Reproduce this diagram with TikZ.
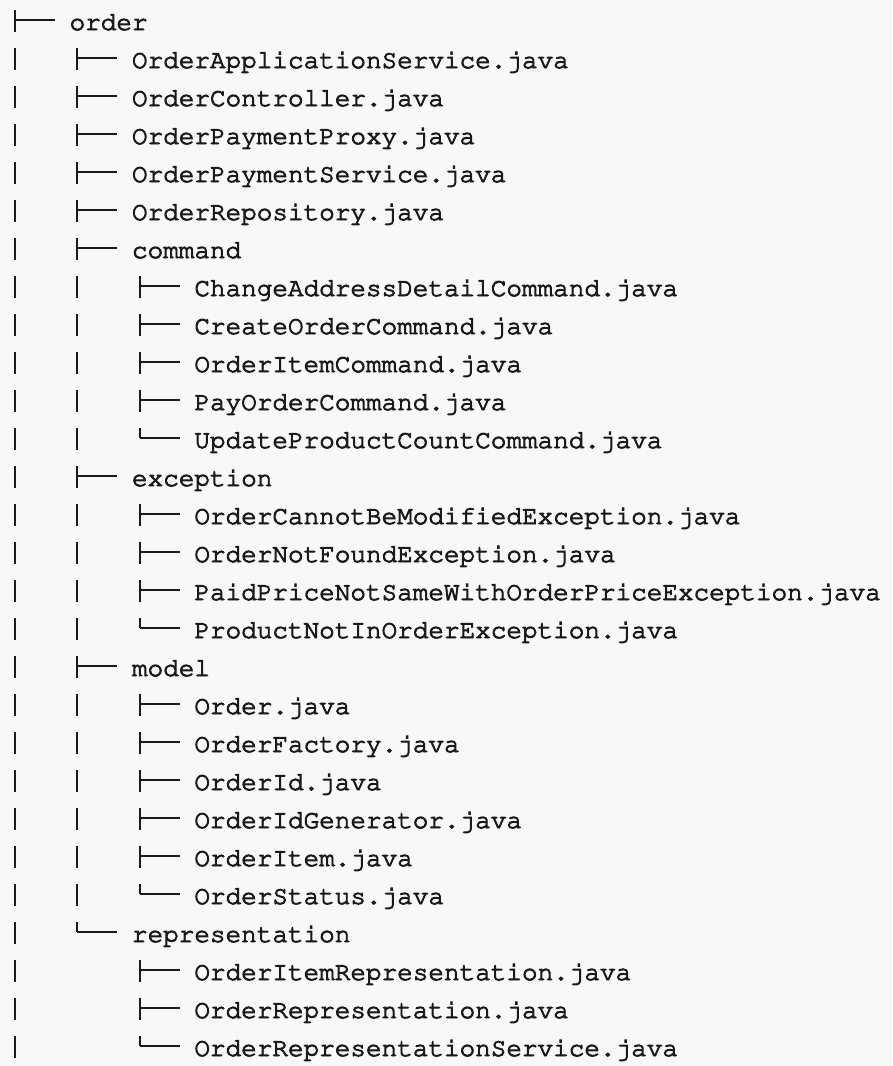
\documentclass[tikz,border=0pt]{standalone}
\usepackage[T1]{fontenc}
\usepackage{courier}
\definecolor{pagebg}{HTML}{F8F8F8}
\definecolor{ink}{HTML}{1A1A1A}
% Courier is drawn a little heavier, as on screen
\newcommand{\heavy}[1]{\special{pdf:literal direct 2 Tr 0.9 w}#1\special{pdf:literal direct 0 Tr}}
\tikzset{
  entry/.style={anchor=base west, inner sep=0pt, text=ink, font=\ttfamily\fontsize{26}{38}\selectfont},
  branch/.style={ink, line width=2.2pt},
}
\newcommand{\cw}{15.6}
\begin{document}
\begin{tikzpicture}[x=1pt,y=-1pt]
  \fill[pagebg] (0,0) rectangle (892,1066);
  \useasboundingbox (0,0) rectangle (892,1066);
  \foreach \np/\d/\k/\t [count=\i from 0] in {
      0/0/t/order,
      1/1/t/OrderApplicationService.java,
      1/1/t/OrderController.java,
      1/1/t/OrderPaymentProxy.java,
      1/1/t/OrderPaymentService.java,
      1/1/t/OrderRepository.java,
      1/1/t/command,
      2/2/t/ChangeAddressDetailCommand.java,
      2/2/t/CreateOrderCommand.java,
      2/2/t/OrderItemCommand.java,
      2/2/t/PayOrderCommand.java,
      2/2/l/UpdateProductCountCommand.java,
      1/1/t/exception,
      2/2/t/OrderCannotBeModifiedException.java,
      2/2/t/OrderNotFoundException.java,
      2/2/t/PaidPriceNotSameWithOrderPriceException.java,
      2/2/l/ProductNotInOrderException.java,
      1/1/t/model,
      2/2/t/Order.java,
      2/2/t/OrderFactory.java,
      2/2/t/OrderId.java,
      2/2/t/OrderIdGenerator.java,
      2/2/t/OrderItem.java,
      2/2/l/OrderStatus.java,
      1/1/l/representation,
      1/2/t/OrderItemRepresentation.java,
      1/2/t/OrderRepresentation.java,
      1/2/l/OrderRepresentationService.java}
  {
    \pgfmathsetmacro{\yb}{30+38*\i}
    \node[entry] (r\i) at ({7+\cw*(4*\d+4)}, \yb) {\heavy{\t}};
    % corner of the branch mark, left of the entry
    \coordinate (b\i) at ([xshift=-54.6pt, yshift=10pt]r\i.base west);
    \if\k t
      \draw[branch] ([yshift=10pt]b\i) -- ([yshift=-12pt]b\i);
    \else
      \draw[branch] ([yshift=10pt]b\i) -- (b\i);
    \fi
    \draw[branch, line width=1.9pt] (b\i) -- ++(40,0);
    \ifnum\np>0
      \foreach \c in {1,...,\np}
        \draw[branch] ({14.8+62.4*(\c-1)}, \yb-20) -- ({14.8+62.4*(\c-1)}, \yb+2);
    \fi
  }
\end{tikzpicture}
\end{document}
